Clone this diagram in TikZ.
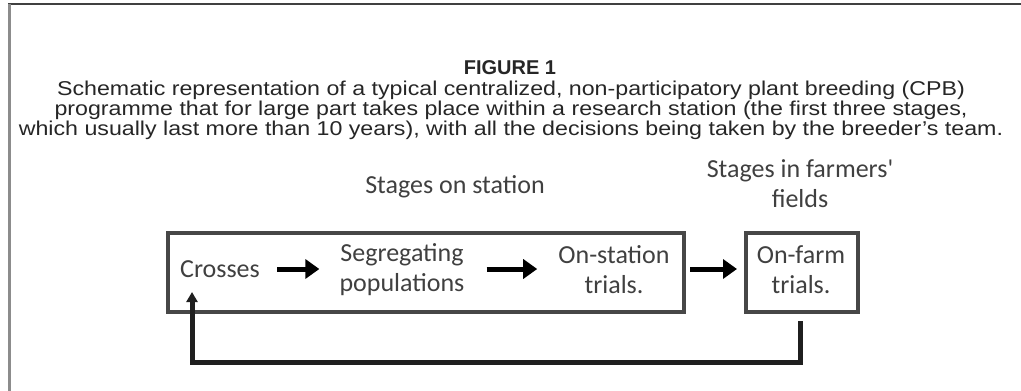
\documentclass[tikz,border=0pt]{standalone}
\usepackage{fontspec}
\setmainfont{Liberation Sans}
\newfontfamily\capfont[FakeStretch=1.16]{Liberation Sans}
\newfontfamily\diafont{Carlito}
\usetikzlibrary{arrows.meta}
\begin{document}
\begin{tikzpicture}[x=1pt,y=-1pt,
  titletxt/.style={font=\capfont\fontsize{20}{20}\selectfont, text=black!85, inner sep=0pt, anchor=center},
  diatxt/.style={font=\diafont\fontsize{26}{30}\selectfont, text=black!75, align=center, inner sep=0pt},
  stagebox/.style={draw=black!72, line width=3.5pt},
  flowarrow/.style={line width=5pt, -{Triangle[length=14pt,width=19pt]}},
  feedback/.style={line width=5pt, draw=black!88, -{Triangle[length=10pt,width=11pt]}}
]
\useasboundingbox (0,0) rectangle (1021,391);
% outer frame
\draw[line width=2.5pt, draw=black!75] (8,4) -- (1021,4);
\draw[line width=3pt, draw=black!45] (9,4) -- (9,391);
% caption
\node[titletxt, font=\bfseries\fontsize{20}{20}\selectfont] (fig) at (510,68) {FIGURE 1};
\node[titletxt] (cap1) at (511,90) {Schematic representation of a typical centralized, non-participatory plant breeding (CPB)};
\node[titletxt] (cap2) at (511,110) {programme that for large part takes place within a research station (the first three stages,};
\node[titletxt] (cap3) at (511,130) {which usually last more than 10 years), with all the decisions being taken by the breeder’s team.};
% boxes
\draw[stagebox] (168,233) rectangle (684,312);
\draw[stagebox] (746,233) rectangle (858,312);
\coordinate (stationE) at (684,269);
\coordinate (farmW) at (746,269);
% labels
\node[diatxt] (stagesst) at (455,187) {Stages on station};
\node[diatxt] (stagesff) at (800,184) {Stages in farmers'\\fields};
\node[diatxt] (crosses) at (220,269) {Crosses};
\node[diatxt] (seg) at (402,270) {Segregating\\populations};
\node[diatxt] (onst) at (614,270) {On-station\\trials.};
\node[diatxt] (onfarm) at (801,270) {On-farm\\trials.};
% arrows
\draw[flowarrow, shorten <=17pt, shorten >=20pt] (crosses.east) -- (seg.west |- crosses.east);
\draw[flowarrow, shorten <=22pt, shorten >=21pt] (seg.east |- crosses.east) -- (onst.west |- crosses.east);
\draw[flowarrow, shorten <=6pt, shorten >=9pt] (stationE) -- (farmW);
% feedback
\coordinate (fbstart) at (800,321);
\coordinate (fbtip) at (192,292);
\draw[feedback] (fbstart) |- (192,362) -- (fbtip);
\end{tikzpicture}
\end{document}
